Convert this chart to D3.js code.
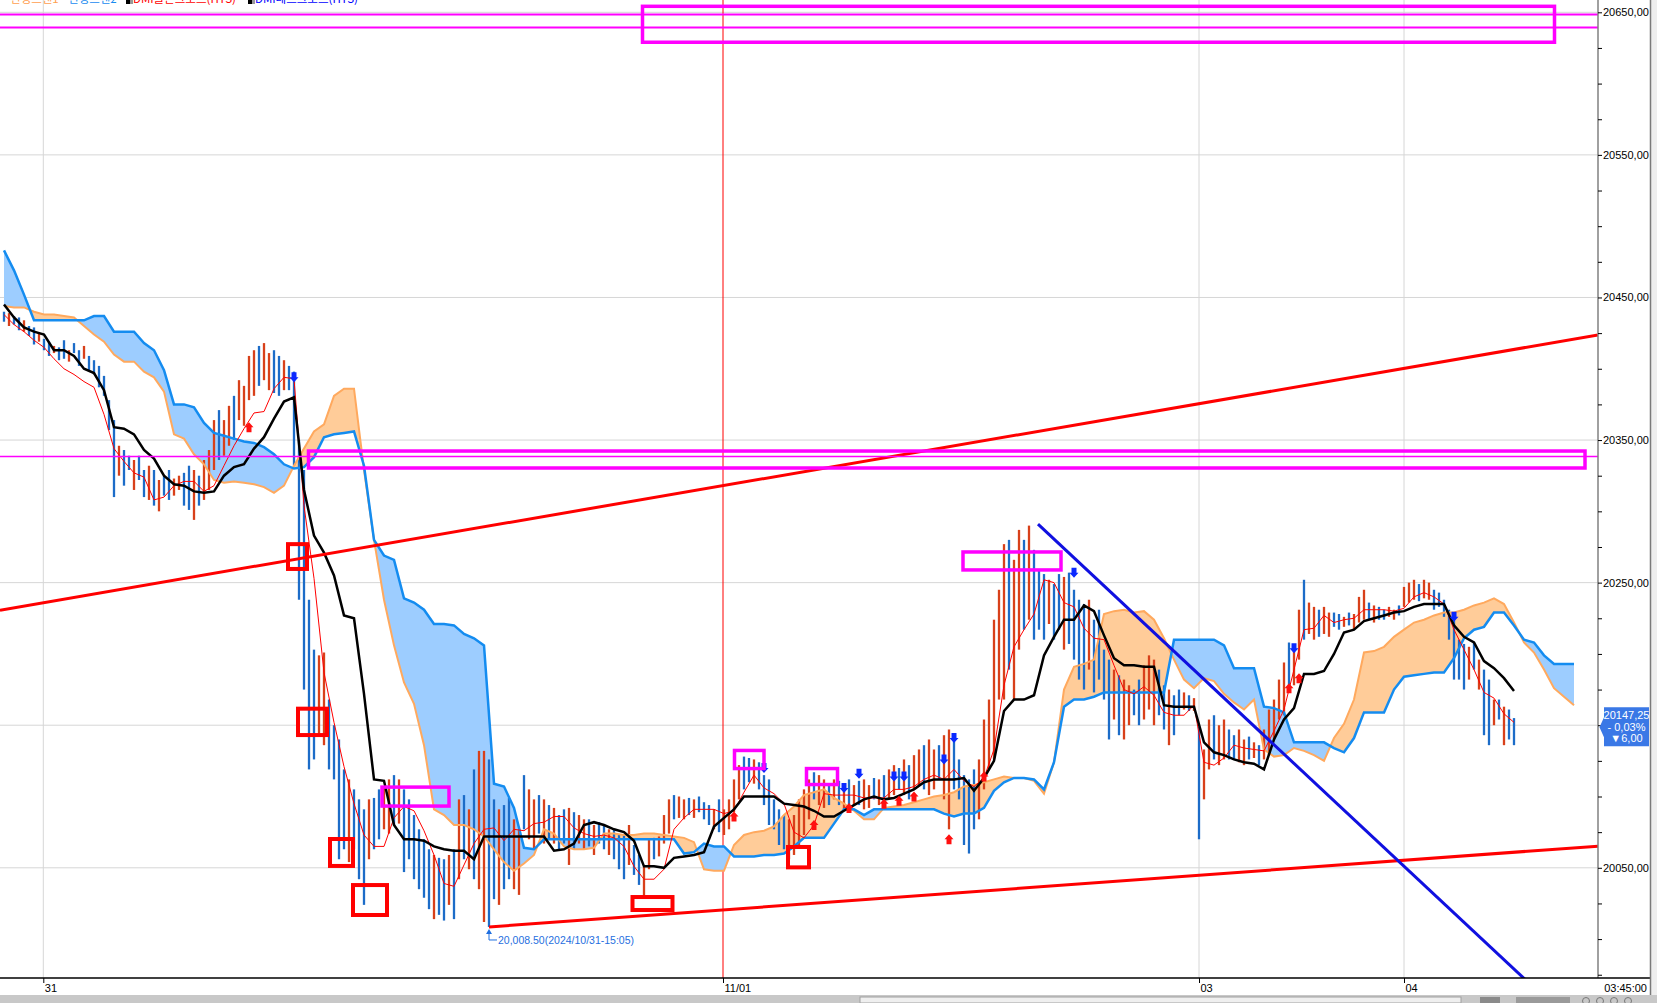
<!DOCTYPE html>
<html><head><meta charset="utf-8">
<script src="https://cdn.jsdelivr.net/npm/d3@7"></script>
<style>html,body{margin:0;padding:0;background:#fff;overflow:hidden}svg{display:block}</style>
</head><body>
<svg id="chart" width="1657" height="1003"></svg>
<script>
// ---------- DATA ----------
const barHigh = [
20440,20439,20437,20436,20434,20430,20429,20425,20421,20419,
20416,20415,20420,20413,20418,20413,20416,20409,20406,20402,
20395,20378,20364,20346,20343,20339,20336,20339,20329,20332,
20329,20322,20325,20329,20323,20325,20327,20332,20329,20325,
20336,20343,20364,20371,20364,20374,20381,20392,20388,20409,
20413,20416,20418,20411,20413,20409,20406,20402,20398,20350,
20329,20238,20203,20199,20201,20168,20150,20140,20119,20112,
20105,20098,20091,20098,20099,20105,20107,20112,20115,20112,
20105,20098,20087,20077,20070,20063,20059,20057,20056,20059,
20063,20098,20101,20091,20119,20132,20132,20126,20098,20091,
20094,20099,20084,20077,20115,20105,20098,20101,20098,20094,
20092,20087,20091,20092,20089,20087,20084,20084,20080,20082,
20080,20077,20077,20073,20073,20080,20066,20059,20051,20070,
20071,20072,20087,20098,20101,20100,20098,20099,20098,20100,
20096,20094,20091,20098,20091,20098,20112,20122,20128,20127,
20126,20124,20115,20112,20098,20091,20087,20084,20087,20098,
20105,20112,20117,20115,20112,20108,20112,20111,20108,20112,
20108,20111,20112,20108,20113,20112,20115,20119,20122,20120,
20126,20122,20129,20133,20136,20140,20133,20136,20143,20147,
20140,20126,20115,20112,20119,20126,20154,20168,20224,20245,
20277,20280,20266,20287,20280,20290,20273,20259,20256,20252,
20249,20256,20254,20257,20245,20238,20235,20238,20224,20231,
20203,20196,20189,20185,20182,20178,20175,20182,20192,20199,
20196,20189,20178,20175,20171,20175,20173,20171,20169,20149,
20133,20154,20157,20150,20154,20147,20143,20147,20140,20142,
20138,20136,20147,20161,20168,20182,20194,20208,20203,20231,
20252,20236,20233,20231,20233,20229,20229,20228,20226,20229,
20228,20240,20245,20236,20234,20233,20231,20233,20231,20234,
20247,20250,20252,20249,20252,20250,20245,20243,20238,20231,
20228,20210,20207,20205,20208,20196,20189,20182,20168,20168,
20163,20161,20155];
const barLow = [
20433,20430,20431,20427,20426,20423,20417,20419,20413,20409,
20411,20406,20407,20405,20411,20402,20407,20399,20396,20387,
20381,20357,20310,20325,20318,20329,20315,20322,20310,20308,
20304,20300,20311,20308,20311,20315,20304,20301,20294,20304,
20308,20315,20329,20336,20339,20346,20350,20364,20360,20378,
20381,20388,20392,20385,20383,20381,20385,20385,20332,20238,
20175,20119,20126,20143,20136,20119,20112,20056,20063,20054,
20063,20042,20024,20056,20063,20070,20077,20074,20080,20081,
20047,20056,20042,20035,20029,20021,20014,20017,20013,20024,
20014,20042,20056,20049,20042,20035,20012,20008.5,20028,20024,
20035,20042,20035,20031,20077,20070,20063,20074,20067,20070,
20067,20063,20067,20052,20063,20067,20063,20065,20059,20067,
20063,20059,20056,20049,20042,20052,20045,20038,20030,20049,
20056,20058,20067,20074,20084,20085,20084,20087,20085,20089,
20084,20080,20077,20075,20073,20077,20089,20098,20105,20110,
20109,20105,20094,20080,20077,20066,20063,20056,20059,20066,
20073,20084,20098,20094,20092,20094,20098,20094,20091,20089,
20094,20094,20091,20092,20098,20094,20098,20098,20101,20105,
20101,20098,20105,20108,20105,20101,20105,20112,20098,20077,
20105,20098,20066,20060,20077,20084,20105,20119,20126,20168,
20168,20189,20168,20203,20217,20224,20210,20217,20210,20221,
20210,20217,20203,20207,20196,20182,20175,20189,20173,20182,
20168,20140,20154,20143,20140,20150,20157,20150,20154,20161,
20150,20157,20147,20136,20143,20157,20161,20160,20160,20070,
20098,20119,20126,20122,20126,20126,20126,20124,20122,20126,
20127,20122,20126,20129,20140,20154,20157,20175,20178,20196,
20210,20214,20210,20212,20214,20212,20219,20217,20219,20220,
20217,20222,20224,20224,20222,20224,20224,20226,20224,20227,
20233,20236,20238,20237,20239,20238,20231,20233,20226,20210,
20182,20182,20175,20182,20189,20175,20143,20136,20150,20154,
20136,20140,20136];
// u = up bar (red), d = down bar (blue)
const barDir = ["dudduddudd","uddudduddd","dddudduddu","dudduuddud","uuuduuduuu",
"uduudduddd","ddduuddddu","dddudduudu","dddddduddu","dududuuddu",
"dduuduudud","udduduudud","dudddudduu","duuuduudud","dduduuuudd",
"udddddduuu","uuduududud","uduududuud","uduuduuduu","ddddduuuuu",
"uduududddu","dduddddudd","dduduudduu","udduddudud","uuduudduud",
"uduuuuuduu","duuduuddud","uuududduud","uuuduudddd","dddududdud","udd"].join("");
// lines sampled every 2 bars
const tenkan = [
20438,20431,20426,20420,20415,20407,20400,20396,20391,20387,
20368,20344,20335,20327,20324,20308,20310,20318,20321,20321,
20314,20318,20332,20346,20358,20369,20370,20386,20394,20393,
20304,20253,20187,20152,20121,20095,20073,20065,20065,20085,
20093,20090,20076,20059,20039,20037,20052,20067,20077,20078,
20069,20077,20076,20081,20082,20086,20086,20078,20074,20072,
20073,20071,20065,20051,20042,20042,20049,20077,20085,20091,
20091,20091,20088,20090,20103,20115,20106,20102,20095,20075,
20071,20080,20102,20101,20101,20101,20099,20099,20099,20105,
20105,20107,20112,20115,20112,20119,20111,20107,20113,20133,
20178,20205,20217,20228,20252,20250,20236,20233,20218,20211,
20210,20192,20175,20172,20177,20171,20159,20157,20157,20164,
20124,20122,20127,20136,20134,20133,20132,20146,20161,20189,
20217,20218,20227,20222,20224,20225,20231,20231,20231,20230,
20232,20240,20243,20240,20235,20217,20203,20189,20173,20169,
20158,20152];
const kijun = [
20445,20436,20429,20426,20424,20413,20413,20409,20400,20397,
20385,20359,20358,20354,20343,20337,20325,20319,20318,20314,
20313,20314,20325,20331,20333,20344,20352,20365,20377,20380,
20315,20283,20271,20255,20227,20225,20172,20112,20111,20080,
20070,20070,20069,20065,20063,20062,20062,20056,20072,20072,
20072,20072,20072,20072,20072,20062,20063,20067,20080,20082,
20080,20077,20075,20069,20051,20051,20050,20057,20058,20059,
20061,20079,20085,20091,20100,20100,20100,20100,20095,20094,
20093,20090,20086,20086,20090,20094,20098,20100,20098,20099,
20102,20105,20110,20112,20112,20112,20113,20104,20113,20125,
20160,20168,20168,20171,20199,20212,20224,20224,20234,20230,
20213,20197,20192,20192,20191,20191,20164,20163,20163,20163,
20138,20131,20129,20126,20124,20123,20119,20140,20154,20162,
20186,20186,20188,20200,20215,20217,20223,20225,20227,20229,
20230,20233,20235,20235,20235,20220,20212,20208,20195,20190,
20183,20174];
const spanA = [
20444,20443,20443,20440,20438,20438,20437,20436,20430,20424,
20419,20410,20405,20405,20398,20394,20384,20354,20351,20340,
20333,20322,20320,20321,20320,20319,20317,20313,20318,20332,
20344,20356,20361,20381,20386,20386,20329,20280,20238,20206,
20180,20165,20136,20091,20087,20080,20080,20077,20072,20063,
20054,20048,20053,20059,20077,20074,20065,20063,20063,20064,
20074,20074,20073,20073,20074,20074,20073,20072,20071,20068,
20049,20048,20048,20066,20073,20075,20076,20079,20087,20093,
20101,20103,20105,20099,20095,20090,20084,20084,20092,20093,
20094,20096,20098,20100,20101,20103,20107,20108,20110,20112,
20114,20113,20113,20111,20102,20124,20175,20191,20193,20196,
20228,20230,20231,20229,20230,20224,20211,20196,20182,20176,
20183,20181,20172,20166,20161,20168,20133,20128,20129,20134,
20132,20129,20125,20141,20151,20168,20201,20202,20205,20212,
20217,20222,20224,20227,20229,20229,20231,20234,20236,20239,
20235,20222,20208,20201,20189,20176,20170,20164];
const spanB = [
20483,20469,20452,20434,20434,20434,20434,20434,20434,20437,
20437,20426,20426,20426,20418,20413,20399,20375,20375,20373,
20362,20355,20353,20351,20349,20348,20345,20340,20333,20330,
20331,20338,20352,20354,20355,20356,20332,20280,20269,20266,
20239,20236,20231,20221,20221,20220,20214,20211,20206,20109,
20107,20092,20064,20063,20070,20070,20070,20070,20070,20070,
20070,20070,20070,20070,20070,20070,20070,20070,20060,20061,
20067,20065,20065,20058,20058,20058,20059,20059,20060,20065,
20071,20071,20071,20081,20091,20091,20087,20091,20091,20091,
20091,20091,20091,20091,20088,20086,20088,20088,20092,20104,
20110,20113,20113,20112,20105,20124,20163,20168,20168,20170,
20173,20173,20173,20173,20173,20173,20173,20210,20210,20210,
20210,20210,20206,20190,20190,20190,20163,20162,20159,20138,
20138,20138,20138,20134,20131,20141,20159,20159,20159,20175,
20184,20185,20186,20187,20187,20197,20211,20217,20219,20229,
20229,20220,20210,20208,20199,20193,20193,20193];
const priceTickValues = d3.range(19975, 20651, 25);
const priceLabelValues = [20050, 20250, 20350, 20450, 20550, 20650]; // 20150 is hidden behind the price flag
const dateLabels = ["31", "11/01", "03", "04"];
const dateIdx = [7.86, 143.8, 239, 280];
const downArrowIdx = [58,152,168,171,178,180,188,190,214,258,290];
const downArrowPrice = [20394,20120,20106,20116,20114,20114,20126,20141,20257,20204,20226];
const upArrowIdx = [49,146,162,169,176,179,182,189,196,257,259];
const upArrowPrice = [20359,20086,20080,20092,20095,20097,20100,20070,20114,20176,20183];
const lastPriceValue = 20147.25;
const lastPrice = "20147,25", lastPct = "- 0,03%", lastChg = "▼6,00";
const lowIdx = 97, lowPrice = 20008.5, lowLabel = "20,008.50(2024/10/31-15:05)";
// trend lines [idx1, price1, idx2, price2]
const redLines = [[-0.8, 20230.7, 318.8, 20423.7], [97, 20008.5, 318.8, 20065.2]];
const blueLines = [[206.8, 20291, 305.2, 19968.5]];
const magentaHLines = [20648.4, 20639.3, 20338.5];
// boxes [idx1, idx2, priceTop, priceBottom]
const magentaBoxes = [[127.7,310.1,20654.2,20629.0],[60.9,316.2,20342.3,20330.4],[191.8,211.4,20271.5,20258.9],
  [75.6,89,20106.6,20093.3],[146.1,152,20132.3,20119.6],[160.5,166.7,20119.6,20108.4]];
const redBoxes = [[56.8,60.6,20277,20259.6],[58.8,64.6,20161.6,20143.1],[65.2,69.8,20070.2,20051.3],
  [69.8,76.6,20037.9,20016.9],[125.7,133.7,20029.5,20020.4],[156.8,161,20064.6,20050.3]];
const legendItems = [["선행스팬1","#ffa050",10],["선행스팬2","#1a8cf0",68],["DMI골든크로스(HTS)","#ff0000",133],["DMI데드크로스(HTS)","#0000ff",255]];

// ---------- CHART ----------
const W = 1657, H = 1003, plotR = 1598, plotB = 978;
const svg = d3.select("#chart");
const x = d3.scaleLinear().domain([0, barHigh.length - 1]).range([4, 4 + 5 * (barHigh.length - 1)]);
const y = d3.scaleLinear().domain([20050, 20650]).range([867.8, 12.3]);
const font = "'Liberation Sans', Arial, sans-serif";

svg.append("rect").attr("width", W).attr("height", H).attr("fill", "#fff");
const defs = svg.append("defs");
defs.append("clipPath").attr("id", "plot").append("rect").attr("x", 0).attr("y", 0).attr("width", plotR).attr("height", plotB);
const lx = (d, j) => x(2 * j);
defs.append("clipPath").attr("id", "aboveB").append("path")
  .attr("d", d3.area().x(lx).y0(0).y1(d => y(d))(spanB));
defs.append("clipPath").attr("id", "belowB").append("path")
  .attr("d", d3.area().x(lx).y0(d => y(d)).y1(plotB)(spanB));

const g = svg.append("g").attr("clip-path", "url(#plot)");

// grid
d3.range(20050, 20651, 100).forEach(v => {
  g.append("line").attr("x1", 0).attr("x2", plotR).attr("y1", y(v)).attr("y2", y(v))
    .attr("stroke", "#d6d6d6").attr("stroke-width", 1);
});
dateIdx.forEach((d, i) => {
  if (i === 1) return;
  g.append("line").attr("x1", x(d)).attr("x2", x(d)).attr("y1", 0).attr("y2", plotB)
    .attr("stroke", "#d6d6d6").attr("stroke-width", 1);
});
g.append("line").attr("x1", x(dateIdx[1])).attr("x2", x(dateIdx[1])).attr("y1", 0).attr("y2", plotB)
  .attr("stroke", "#ff0000").attr("stroke-width", 1);

// cloud fill
const between = d3.area().x(lx).y0((d, j) => y(spanB[j])).y1(d => y(d));
g.append("path").attr("d", between(spanA)).attr("fill", "#ffcc99").attr("clip-path", "url(#aboveB)");
g.append("path").attr("d", between(spanA)).attr("fill", "#9dcdff").attr("clip-path", "url(#belowB)");

// bars
g.append("g").selectAll("line").data(barHigh).join("line")
  .attr("x1", (d, i) => x(i)).attr("x2", (d, i) => x(i))
  .attr("y1", d => y(d)).attr("y2", (d, i) => y(barLow[i]))
  .attr("stroke", (d, i) => barDir[i] === "u" ? "#d8401a" : "#1c6cc8")
  .attr("stroke-width", 2.3);

// cloud lines
const line = d3.line().x(lx).y(d => y(d));
g.append("path").attr("d", line(spanA)).attr("fill", "none").attr("stroke", "#ffa95e").attr("stroke-width", 2);
g.append("path").attr("d", line(spanB)).attr("fill", "none").attr("stroke", "#148cf0").attr("stroke-width", 2.5);
g.append("path").attr("d", line(tenkan)).attr("fill", "none").attr("stroke", "#ff0000").attr("stroke-width", 1);
g.append("path").attr("d", line(kijun)).attr("fill", "none").attr("stroke", "#000").attr("stroke-width", 2.5);

// arrows
downArrowIdx.forEach((d, k) => {
  const cx = x(d), cy = y(downArrowPrice[k]);
  g.append("path").attr("d", `M${cx-2.5},${cy-5}H${cx+2.5}V${cy}H${cx+4.5}L${cx},${cy+5}L${cx-4.5},${cy}H${cx-2.5}Z`)
    .attr("fill", "#0a28ff");
});
upArrowIdx.forEach((d, k) => {
  const cx = x(d), cy = y(upArrowPrice[k]);
  g.append("path").attr("d", `M${cx-2.5},${cy+5}H${cx+2.5}V${cy}H${cx+4.5}L${cx},${cy-5}L${cx-4.5},${cy}H${cx-2.5}Z`)
    .attr("fill", "#ff1010");
});

// trend lines
redLines.forEach(l => g.append("line").attr("x1", x(l[0])).attr("y1", y(l[1])).attr("x2", x(l[2])).attr("y2", y(l[3]))
  .attr("stroke", "#ff0000").attr("stroke-width", 3));
blueLines.forEach(l => g.append("line").attr("x1", x(l[0])).attr("y1", y(l[1])).attr("x2", x(l[2])).attr("y2", y(l[3]))
  .attr("stroke", "#1010e0").attr("stroke-width", 3));
magentaHLines.forEach((v, k) => g.append("line").attr("x1", 0).attr("x2", plotR).attr("y1", y(v)).attr("y2", y(v))
  .attr("stroke", "#ff00ff").attr("stroke-width", k < 2 ? 2 : 1.5));
magentaBoxes.forEach(b => g.append("rect").attr("x", x(b[0])).attr("y", y(b[2]))
  .attr("width", x(b[1]) - x(b[0])).attr("height", y(b[3]) - y(b[2]))
  .attr("fill", "none").attr("stroke", "#ff00ff").attr("stroke-width", 3.5));
redBoxes.forEach(b => g.append("rect").attr("x", x(b[0])).attr("y", y(b[2]))
  .attr("width", x(b[1]) - x(b[0])).attr("height", y(b[3]) - y(b[2]))
  .attr("fill", "none").attr("stroke", "#ff0000").attr("stroke-width", 4));

// low annotation
const ax = x(lowIdx), ay = y(lowPrice);
g.append("path").attr("d", `M${ax},${ay+2}L${ax-3},${ay+7}H${ax+3}Z`).attr("fill", "#1f6fe0");
g.append("path").attr("d", `M${ax},${ay+5}V${ay+13}H${ax+8}`).attr("fill", "none").attr("stroke", "#1f6fe0").attr("stroke-width", 1);
g.append("text").attr("x", ax + 9).attr("y", ay + 17).text(lowLabel)
  .attr("font-family", font).attr("font-size", 10.5).attr("fill", "#1f6fe0");

// legend (clipped at top, as in the reference)
legendItems.forEach((it, k) => {
  if (k >= 2) {
    svg.append("rect").attr("x", it[2] - 7).attr("y", 0).attr("width", 4).attr("height", 4).attr("fill", "#000");
    svg.append("rect").attr("x", it[2] - 3).attr("y", 0).attr("width", 3).attr("height", 4).attr("fill", "#999");
  }
  svg.append("text").attr("x", it[2]).attr("y", 2.5).text(it[0])
    .attr("font-family", "'Noto Sans CJK KR', sans-serif").attr("font-size", 11.5).attr("fill", it[1]);
});

// right axis
svg.append("line").attr("x1", plotR).attr("x2", plotR).attr("y1", 0).attr("y2", plotB).attr("stroke", "#808080").attr("stroke-width", 1.5);
const yAxis = d3.axisRight(y).tickValues(priceTickValues).tickSize(4).tickPadding(1)
  .tickFormat(v => priceLabelValues.includes(v) ? v.toFixed(2).replace(".", ",") : "");
const ya = svg.append("g").attr("transform", `translate(${plotR},0)`).call(yAxis);
ya.select(".domain").remove();
ya.selectAll("text").attr("font-family", font).attr("font-size", 11).attr("fill", "#000");
ya.selectAll("line").attr("stroke", "#000");

// bottom axis
svg.append("line").attr("x1", 0).attr("x2", 1650).attr("y1", plotB).attr("y2", plotB).attr("stroke", "#000").attr("stroke-width", 1.5);
const xAxis = d3.axisBottom(x).tickValues(dateIdx).tickSize(5).tickFormat((d, i) => dateLabels[i]);
const xa = svg.append("g").attr("transform", `translate(0,${plotB})`).call(xAxis);
xa.select(".domain").remove();
xa.selectAll("text").attr("text-anchor", "start").attr("x", 1).attr("y", 14).attr("dy", 0)
  .attr("font-family", font).attr("font-size", 11).attr("fill", "#000");
xa.selectAll("line").attr("stroke", "#000");
svg.append("text").attr("x", 1647).attr("y", 992).attr("text-anchor", "end").text("03:45:00")
  .attr("font-family", font).attr("font-size", 11).attr("fill", "#000");

// last price flag
const py = y(lastPriceValue);
svg.append("path").attr("d", `M${plotR+1.5},${py-2}L${plotR+6},${py-12}V${py-22}H1649V${py+17}H${plotR+6}V${py+8}Z`)
  .attr("fill", "#3a78e6");
[[lastPrice, -10], [lastPct, 2], [lastChg, 13]].forEach(t => {
  svg.append("text").attr("x", 1626.5).attr("y", py + t[1]).attr("text-anchor", "middle").text(t[0])
    .attr("font-family", font).attr("font-size", 11).attr("fill", "#fff");
});

// frame on the right & scrollbar
svg.append("rect").attr("x", 1651).attr("y", 0).attr("width", 6).attr("height", H).attr("fill", "#eeeeee");
svg.append("line").attr("x1", 1650.5).attr("x2", 1650.5).attr("y1", 0).attr("y2", 995).attr("stroke", "#7a7a7a").attr("stroke-width", 1.5);
svg.append("rect").attr("x", 0).attr("y", 995).attr("width", W).attr("height", 8).attr("fill", "#c8c8c8");
svg.append("rect").attr("x", 860).attr("y", 997).attr("width", 601).attr("height", 6).attr("fill", "#efefef").attr("stroke", "#a0a0a0");
svg.append("rect").attr("x", 1480).attr("y", 997).attr("width", 20).attr("height", 6).attr("fill", "#8a8a8a");
svg.append("rect").attr("x", 1516).attr("y", 997).attr("width", 54).attr("height", 6).attr("fill", "#9a9a9a");
[1586, 1600, 1614, 1628].forEach(cx => svg.append("circle").attr("cx", cx).attr("cy", 1001).attr("r", 3.5)
  .attr("fill", "none").attr("stroke", "#777"));
</script>
</body></html>
